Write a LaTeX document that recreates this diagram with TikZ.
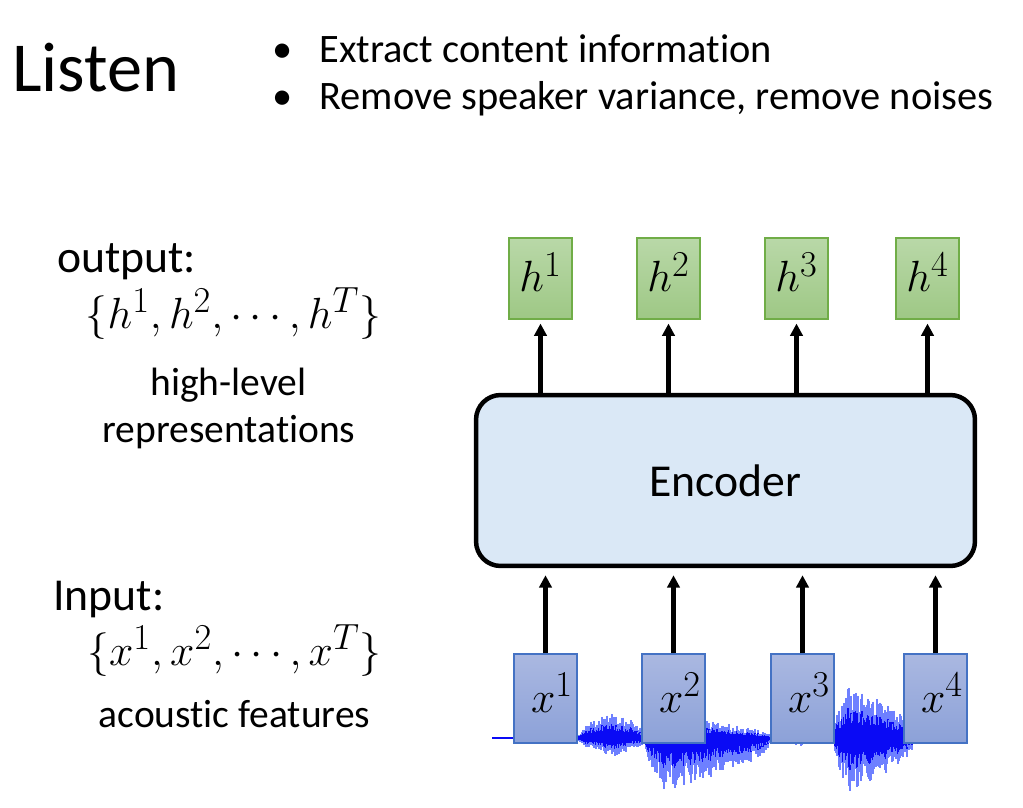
\documentclass[tikz,border=0pt]{standalone}
\usepackage{fontspec}
\setmainfont{Carlito}[Ligatures={NoCommon,NoContextual}]
\usetikzlibrary{arrows.meta}

\definecolor{htop}{RGB}{185,216,168}
\definecolor{hbot}{RGB}{158,200,133}
\definecolor{hline}{RGB}{112,173,71}
\definecolor{xtop}{RGB}{170,184,225}
\definecolor{xbot}{RGB}{140,161,216}
\definecolor{xline}{RGB}{68,114,196}
\definecolor{encfill}{RGB}{218,232,246}
\definecolor{wavedark}{RGB}{10,10,245}
\definecolor{wavelight}{RGB}{110,128,255}

\tikzset{
    hbox/.style={draw=hline, line width=0.6pt, top color=htop, bottom color=hbot,
        minimum width=1.26cm, inner sep=0pt, text height=1.08cm, text depth=0.54cm,
        font=\fontsize{24.88}{30}\selectfont},
    xbox/.style={draw=xline, line width=0.6pt, top color=xtop, bottom color=xbot,
        inner xsep=0.08cm, inner ysep=0pt, text width=1.1cm, align=right,
        text height=1.16cm, text depth=0.62cm, font=\fontsize{24.88}{30}\selectfont},
    encbox/.style={draw, line width=2.55pt, rounded corners=14pt, fill=encfill,
        minimum width=9.98cm, minimum height=3.42cm, font=\fontsize{26}{31}\selectfont},
    arr/.style={-{Triangle[width=7pt,length=7pt]}, line width=2.3pt},
    lbl/.style={inner sep=0pt, font=\fontsize{26}{31}\selectfont},
    sublbl/.style={inner sep=0pt, font=\fontsize{22.5}{27}\selectfont},
    setlbl/.style={inner sep=0pt, font=\fontsize{24.88}{30}\selectfont},
    itemlbl/.style={inner sep=0pt, font=\fontsize{23}{28}\selectfont},
    wave/.style={line width=0.6pt}
}

\begin{document}
\begin{tikzpicture}[x=0.02cm, y=-0.02cm]
    \useasboundingbox (0,0) rectangle (1023,807);

    % heading
    \node[anchor=base west, inner sep=0pt, font=\fontsize{40}{48}\selectfont] (title) at (12,92) {Listen};
    \node[anchor=base, itemlbl] (dot1) at (283,63) {\textbullet};
    \node[anchor=base west, itemlbl] (item1) at (319,63) {Extract content information};
    \node[anchor=base, itemlbl] (dot2) at (283,110) {\textbullet};
    \node[anchor=base west, itemlbl] (item2) at (319,110) {Remove speaker variance, remove noises};

    % left column
    \node[anchor=base west, lbl] (outlbl) at (57,273) {output:};
    \node[anchor=base, setlbl] (hset) at (233.5,328) {$\{h^1,h^2,\cdots,h^T\}$};
    \node[anchor=base, sublbl] (hdesc1) at (228.5,395) {high-level};
    \node[anchor=base, sublbl] (hdesc2) at (229,442) {representations};
    \node[anchor=base west, lbl] (inlbl) at (53,610) {Input:};
    \node[anchor=base, setlbl] (xset) at (234.5,665) {$\{x^1,x^2,\cdots,x^T\}$};
    \node[anchor=base, sublbl] (xdesc) at (234.5,727) {acoustic features};

    % waveform under the input frames
    \pgfmathsetseed{11}
    \newcommand{\burst}[5]{
        \foreach \wx in {#1,...,#3}{
            \pgfmathsetmacro{\env}{sqrt(\wx<#2 ? (\wx-#1)/(#2-#1) : (#3-\wx)/(#3-#2))}
            \pgfmathsetmacro{\wup}{#4*\env*(0.45+0.55*rnd)}
            \pgfmathsetmacro{\wdn}{#5*\env*(0.45+0.55*rnd)}
            \draw[wave, wavelight] (\wx,738-\wup) -- (\wx,738+\wdn);
            \draw[wave, wavedark] (\wx,738-0.6*\wup) -- (\wx,738+0.6*\wdn);
        }
    }
    \draw[wavedark, line width=0.8pt] (492,738) -- (905,738);
    \burst{578}{612}{646}{27}{20}
    \burst{644}{666}{772}{22}{54}
    \burst{772}{800}{834}{6}{8}
    \burst{834}{848}{916}{52}{54}

    % encoder
    \node[encbox] (enc) at (725.5,480.5) {Encoder};

    % outputs
    \node[hbox] (h1) at (540.5,278.5) {$h^1$};
    \node[hbox] (h2) at (668.5,278.5) {$h^2$};
    \node[hbox] (h3) at (796.5,278.5) {$h^3$};
    \node[hbox] (h4) at (927.5,278.5) {$h^4$};

    % inputs
    \node[xbox] (x1) at (545.5,698.5) {$x^1$};
    \node[xbox] (x2) at (673.5,698.5) {$x^2$};
    \node[xbox] (x3) at (802.5,698.5) {$x^3$};
    \node[xbox] (x4) at (935.5,698.5) {$x^4$};

    \draw[arr, shorten >=2.3pt] (enc.north -| h1) -- (h1.south);
    \draw[arr, shorten >=2.3pt] (enc.north -| h2) -- (h2.south);
    \draw[arr, shorten >=2.3pt] (enc.north -| h3) -- (h3.south);
    \draw[arr, shorten >=2.3pt] (enc.north -| h4) -- (h4.south);

    \draw[arr, shorten >=4pt] (x1.north) -- (x1.north |- enc.south);
    \draw[arr, shorten >=4pt] (x2.north) -- (x2.north |- enc.south);
    \draw[arr, shorten >=4pt] (x3.north) -- (x3.north |- enc.south);
    \draw[arr, shorten >=4pt] (x4.north) -- (x4.north |- enc.south);
\end{tikzpicture}
\end{document}
